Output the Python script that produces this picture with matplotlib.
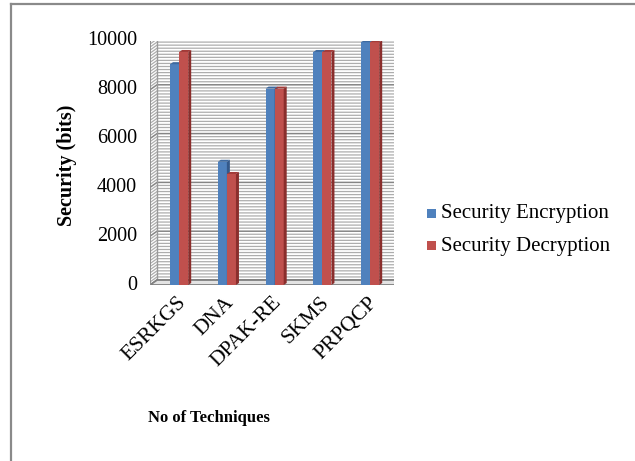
import matplotlib
matplotlib.use("Agg")
import matplotlib.pyplot as plt
from matplotlib.patches import Polygon, Rectangle
from matplotlib.transforms import IdentityTransform

categories = ["ESRKGS", "DNA", "DPAK-RE", "SKMS", "PRPQCP"]
encryption = [9050, 5050, 8050, 9550, 9950]
decryption = [9550, 4550, 8050, 9550, 9950]
series_names = ["Security Encryption", "Security Decryption"]
yticks = [0, 2000, 4000, 6000, 8000, 10000]

plt.rcParams["font.family"] = ["Liberation Serif", "DejaVu Serif"]

W, H = 635, 461
fig = plt.figure(figsize=(W / 100, H / 100), dpi=100)

x_left, x_right = 150, 394
y_bot, y_top = 285, 41
ax = fig.add_axes([x_left / W, 1 - y_bot / H, (x_right - x_left) / W, (y_bot - y_top) / H])
ax.set_xlim(-0.58, 4.53)
ax.set_ylim(0, 10000)
ax.axis("off")

fig.canvas.draw()
T = ax.transData
ident = IdentityTransform()
DX, DY = 7, 5
xmin, xmax = ax.get_xlim()

def disp(x, y):
    return T.transform((x, y))

minor = 125
v = 0
lines_vals = []
while v <= 10000 + 1e-6:
    lines_vals.append(v)
    v += minor
for val in lines_vals:
    major = (val % 2000 == 0)
    p0 = disp(xmin, val)
    p1 = (p0[0] + DX, p0[1] + DY)
    p2 = disp(xmax, val)
    p2 = (p2[0] + DX, p2[1] + DY)
    col = "#858585" if major else "#adadad"
    lw = 1.1 if major else 0.9
    ax.add_line(plt.Line2D([p0[0], p1[0], p2[0]], [p0[1], p1[1], p2[1]],
                           transform=ident, color=col, lw=lw, zorder=1))

pb = disp(xmin, 0); pt = disp(xmin, 10000)
ax.add_line(plt.Line2D([pb[0] + DX, pt[0] + DX], [pb[1] + DY, pt[1] + DY],
                       transform=ident, color="#9a9a9a", lw=1.0, zorder=1))
ax.add_line(plt.Line2D([pt[0], pt[0] + DX], [pt[1], pt[1] + DY],
                       transform=ident, color="#9a9a9a", lw=1.0, zorder=1))

f0 = disp(xmin, 0); f1 = disp(xmax, 0)
floor = Polygon([(f0[0], f0[1]), (f1[0], f1[1]), (f1[0] + DX, f1[1] + DY), (f0[0] + DX, f0[1] + DY)],
                closed=True, transform=ident, facecolor="#e3e3e3", edgecolor="#808080", lw=1.3, zorder=2)
ax.add_patch(floor)

ax.add_line(plt.Line2D([f0[0], pt[0]], [f0[1], pt[1]], transform=ident, color="#8c8c8c", lw=1.3, zorder=5))
for t in yticks:
    p = disp(xmin, t)
    ax.add_line(plt.Line2D([p[0] - 5, p[0]], [p[1], p[1]], transform=ident, color="#8c8c8c", lw=1.2, zorder=5))
    ax.text(p[0] - 13, p[1], f"{t}", transform=ident, ha="right", va="center", fontsize=14.5, color="black")

bw = 0.19
bdx, bdy = 3, 2
colors = ["#4F81BD", "#C0504D"]
side_cols = ["#34598a", "#8a2e2c"]
top_cols = ["#3e6aa0", "#a33b39"]
for s, vals in enumerate([encryption, decryption]):
    for i, h in enumerate(vals):
        x0 = i + (s - 1) * bw + 0.03
        x1 = x0 + bw
        ax.add_patch(Rectangle((x0, 0), bw, h, facecolor=colors[s], edgecolor="none", zorder=6 + s))
        a = disp(x1, 0); b = disp(x1, h); c = disp(x0, h)
        ax.add_patch(Polygon([(a[0], a[1]), (b[0], b[1]), (b[0] + bdx, b[1] + bdy), (a[0] + bdx, a[1] + bdy)],
                             closed=True, transform=ident, facecolor=side_cols[s], edgecolor="none", zorder=6 + s))
        ax.add_patch(Polygon([(c[0], c[1]), (b[0], b[1]), (b[0] + bdx, b[1] + bdy), (c[0] + bdx, c[1] + bdy)],
                             closed=True, transform=ident, facecolor=top_cols[s], edgecolor="none", zorder=6 + s))

for i, name in enumerate(categories):
    p = disp(i, 0)
    ax.text(p[0] - 1, p[1] - 8, name, transform=ident, rotation=45, ha="right", va="top",
            rotation_mode="anchor", fontsize=15.5, color="black")

fig.text(67 / W, 1 - 165 / H, "Security (bits)", rotation=90, ha="center", va="center",
         fontsize=14.5, fontweight="bold")
fig.text(209 / W, 1 - 418 / H, "No of Techniques", ha="center", va="center",
         fontsize=12, fontweight="bold")

for k, name in enumerate(series_names):
    yy = 1 - (213 + 33 * k) / H
    fig.patches.append(Rectangle((427 / W, yy - 4.5 / H), 9 / W, 9 / H, transform=fig.transFigure,
                                 facecolor=colors[k], edgecolor="none"))
    fig.text(441 / W, yy, name, ha="left", va="center", fontsize=15)

fig.add_artist(plt.Line2D([11 / W, 11 / W], [0, 1 - 4 / H], transform=fig.transFigure, color="#8a8a8a", lw=1.6))
fig.add_artist(plt.Line2D([11 / W, 1], [1 - 4 / H, 1 - 4 / H], transform=fig.transFigure, color="#8a8a8a", lw=1.6))

fig.savefig("out.png", dpi=100)
